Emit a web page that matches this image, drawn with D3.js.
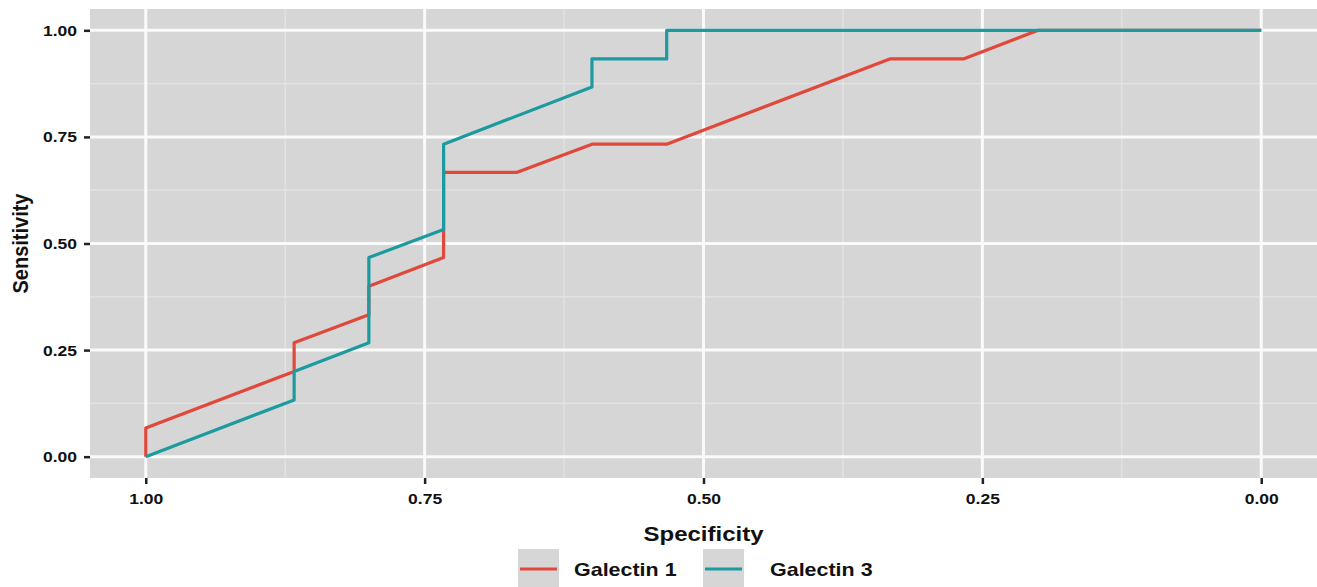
<!DOCTYPE html>
<html>
<head>
<meta charset="utf-8">
<script src="https://cdn.jsdelivr.net/npm/d3@7"></script>
<style>
  body { margin: 0; background: #fff; }
  svg text { font-family: "Liberation Sans", Arial, sans-serif; font-weight: bold; fill: #111; }
</style>
</head>
<body>
<div id="chart"></div>
<script>
const width = 1317;
const height = 587;

// ROC points (specificity, sensitivity)
const gal1Spec = [1, 1, 0.867, 0.867, 0.8, 0.8, 0.733, 0.733, 0.667, 0.6, 0.533, 0.333, 0.267, 0.2, 0];
const gal1Sens = [0, 0.067, 0.2, 0.267, 0.333, 0.4, 0.467, 0.667, 0.667, 0.733, 0.733, 0.933, 0.933, 1, 1];
const gal3Spec = [1, 0.867, 0.867, 0.8, 0.8, 0.733, 0.733, 0.6, 0.6, 0.533, 0.533, 0];
const gal3Sens = [0, 0.133, 0.2, 0.267, 0.467, 0.533, 0.733, 0.867, 0.933, 0.933, 1, 1];

const seriesNames = ["Galectin 1", "Galectin 3"];
const seriesColors = ["#e0483b", "#1b9a9f"];
const ticks = [0, 0.25, 0.5, 0.75, 1];

const margin = {top: 9, right: 0, bottom: 109, left: 90};
const pw = width - margin.left - margin.right;
const ph = height - margin.top - margin.bottom;
// the picture is a little wider than it is tall, text gets the same stretch
const stretch = 1.13;

const svg = d3.select("#chart").append("svg")
  .attr("width", width)
  .attr("height", height);

// ggplot style 5% expansion, specificity reversed
const x = d3.scaleLinear().domain([1.05, -0.05]).range([0, pw]);
const y = d3.scaleLinear().domain([-0.05, 1.05]).range([ph, 0]);

const g = svg.append("g").attr("transform", `translate(${margin.left},${margin.top})`);

g.append("rect").attr("width", pw).attr("height", ph).attr("fill", "#d6d6d6");

const minor = [0.125, 0.375, 0.625, 0.875];
g.selectAll(".vminor").data(minor).enter().append("line")
  .attr("x1", d => x(d)).attr("x2", d => x(d))
  .attr("y1", 0).attr("y2", ph)
  .attr("stroke", "#e4e4e4").attr("stroke-width", 1.2);
g.selectAll(".hminor").data(minor).enter().append("line")
  .attr("y1", d => y(d)).attr("y2", d => y(d))
  .attr("x1", 0).attr("x2", pw)
  .attr("stroke", "#e4e4e4").attr("stroke-width", 1.2);
g.selectAll(".vmajor").data(ticks).enter().append("line")
  .attr("x1", d => x(d)).attr("x2", d => x(d))
  .attr("y1", 0).attr("y2", ph)
  .attr("stroke", "#fafafa").attr("stroke-width", 3);
g.selectAll(".hmajor").data(ticks).enter().append("line")
  .attr("y1", d => y(d)).attr("y2", d => y(d))
  .attr("x1", 0).attr("x2", pw)
  .attr("stroke", "#fafafa").attr("stroke-width", 3);

const line = d3.line().x(d => x(d[0])).y(d => y(d[1]));
const series = [d3.zip(gal1Spec, gal1Sens), d3.zip(gal3Spec, gal3Sens)];
series.forEach(function(s, i) {
  g.append("path")
    .datum(s)
    .attr("d", line)
    .attr("fill", "none")
    .attr("stroke", seriesColors[i])
    .attr("stroke-width", 3.2)
    .attr("stroke-linejoin", "round");
});

// axes
const xAxis = g.append("g").attr("transform", `translate(0,${ph})`)
  .call(d3.axisBottom(x).tickValues(ticks).tickFormat(d3.format(".2f")).tickSize(6).tickPadding(9));
const yAxis = g.append("g")
  .call(d3.axisLeft(y).tickValues(ticks).tickFormat(d3.format(".2f")).tickSize(6).tickPadding(7));
[xAxis, yAxis].forEach(function(a) {
  a.select(".domain").remove();
  a.selectAll(".tick line").attr("stroke", "#222").attr("stroke-width", 2.5);
  a.selectAll(".tick text")
    .style("font-size", "15.5px")
    .style("font-family", "Liberation Sans, Arial, sans-serif")
    .style("font-weight", "bold")
    .attr("fill", "#111");
});
xAxis.selectAll(".tick text").attr("transform", `scale(${stretch},1)`);
yAxis.selectAll(".tick text")
  .attr("x", 0)
  .attr("transform", `translate(-13,0) scale(${stretch},1)`);

svg.append("text")
  .attr("transform", `translate(${margin.left + x(0.5)},541) scale(1.2,1)`)
  .attr("text-anchor", "middle")
  .style("font-size", "20px")
  .text("Specificity");

svg.append("text")
  .attr("transform", `translate(28,${margin.top + ph / 2}) rotate(-90) scale(1,${stretch})`)
  .attr("text-anchor", "middle")
  .style("font-size", "20px")
  .text("Sensitivity");

// legend
const legendX = [518, 703];
const legendTextX = [574, 770];
seriesNames.forEach(function(name, i) {
  svg.append("rect")
    .attr("x", legendX[i]).attr("y", 549)
    .attr("width", 41).attr("height", 40)
    .attr("fill", "#d6d6d6");
  svg.append("line")
    .attr("x1", legendX[i] + 2).attr("x2", legendX[i] + 39)
    .attr("y1", 569).attr("y2", 569)
    .attr("stroke", seriesColors[i]).attr("stroke-width", 3);
  svg.append("text")
    .attr("transform", `translate(${legendTextX[i]},576) scale(${stretch},1)`)
    .style("font-size", "19px")
    .text(name);
});
</script>
</body>
</html>
